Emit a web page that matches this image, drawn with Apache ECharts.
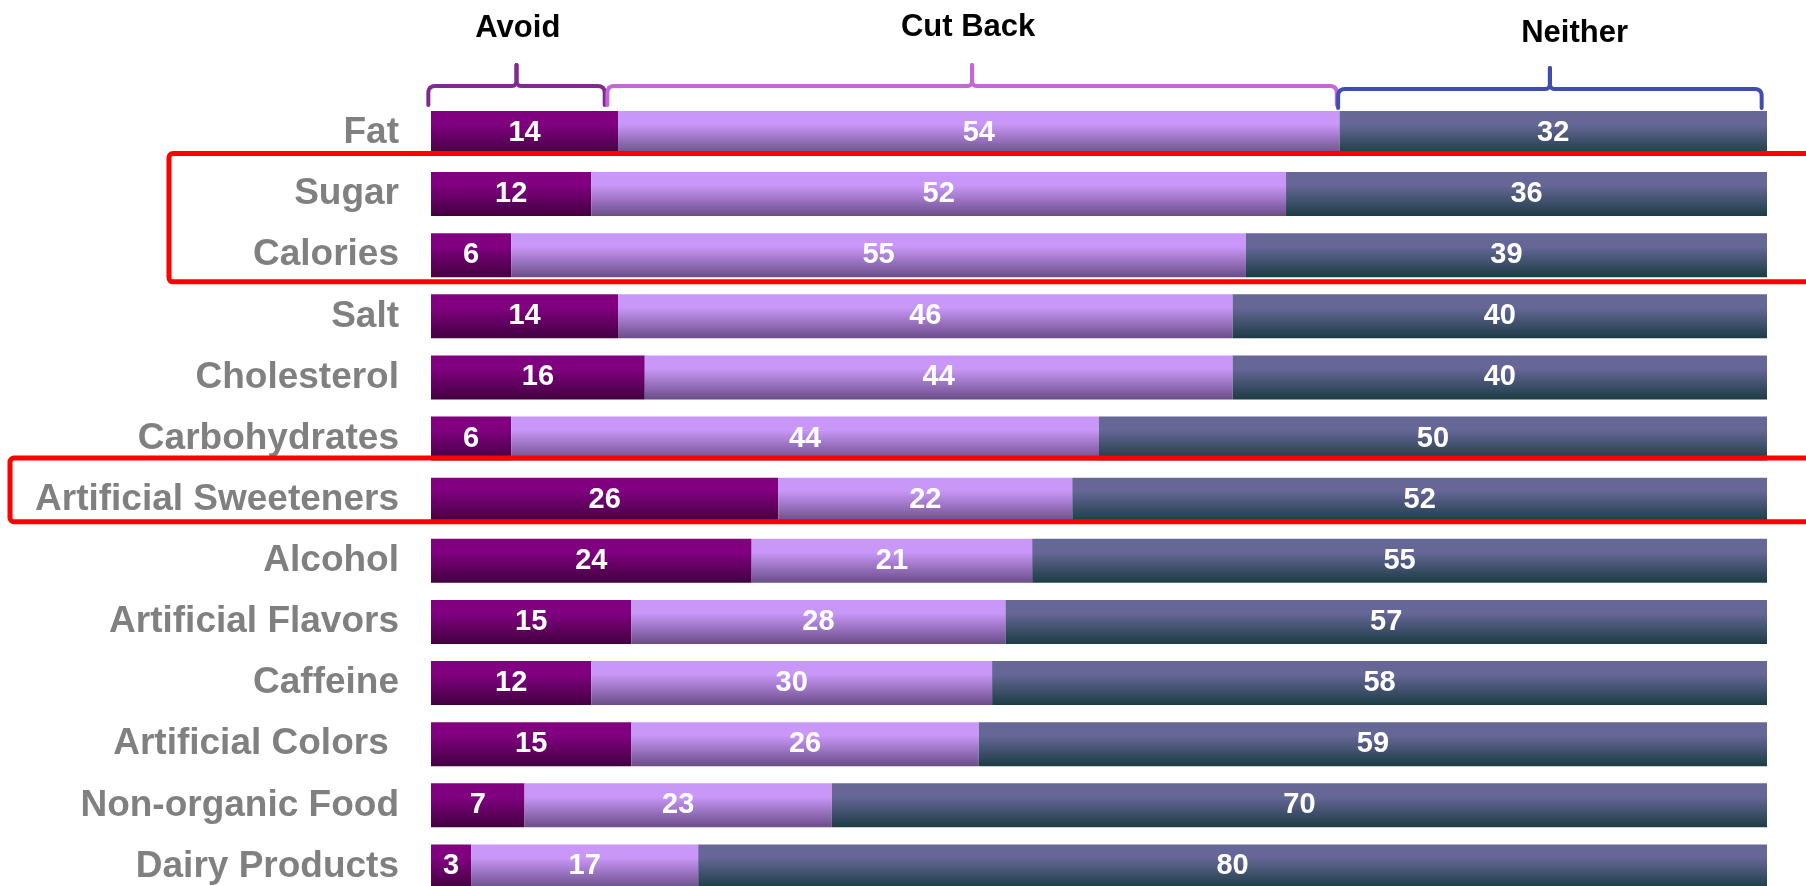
<!DOCTYPE html>
<html>
<head>
<meta charset="utf-8">
<script src="https://cdn.jsdelivr.net/npm/echarts@6/dist/echarts.min.js"></script>
<style>
html,body{margin:0;padding:0;background:#fff;overflow:hidden;}
#chart{width:1806px;height:897px;}
</style>
</head>
<body>
<div id="chart"></div>
<script>
const categories = ["Fat","Sugar","Calories","Salt","Cholesterol","Carbohydrates","Artificial Sweeteners","Alcohol","Artificial Flavors","Caffeine","Artificial Colors ","Non-organic Food","Dairy Products"];
const avoid   = [14,12,6,14,16,6,26,24,15,12,15,7,3];
const cutBack = [54,52,55,46,44,44,22,21,28,30,26,23,17];
const neither = [32,36,39,40,40,50,52,55,57,58,59,70,80];
const seriesNames = ["Avoid","Cut Back","Neither"];
// bracket spans over the first row, in value units
const bracketSpans = [[-0.2,13.0],[13.2,67.8],[67.9,99.6]];
const headerCenters = [6.5,40.2,85.6];

const FONT = '"Liberation Sans", Arial, sans-serif';

function grad(top, bottom){
  return new echarts.graphic.LinearGradient(0,0,0,1,[
    {offset:0,color:top},{offset:0.3,color:top},{offset:1,color:bottom}
  ]);
}
const colors = [grad('#800080','#420040'), grad('#c997f8','#6a4d88'), grad('#666797','#1c3c44')];
const bracketColors = ['#80298f','#c566d6','#3f4db0'];

const chart = echarts.init(document.getElementById('chart'), null, {renderer:'canvas'});

const labelStyle = {show:true, position:'inside', color:'#fff', fontSize:29, fontWeight:'bold', fontFamily:FONT};
const dataSets = [avoid, cutBack, neither];

const option = {
  animation:false,
  backgroundColor:'#fff',
  grid:{left:431, right:39, top:102.4, bottom:0, containLabel:false},
  xAxis:{type:'value', min:0, max:100, show:false},
  yAxis:{
    type:'category', data:categories, inverse:true,
    axisLine:{show:false}, axisTick:{show:false}, splitLine:{show:false},
    axisLabel:{fontSize:37, fontWeight:'bold', color:'#808080', fontFamily:FONT, margin:32}
  },
  series: dataSets.map((d,i)=>({
    name:seriesNames[i], type:'bar', stack:'total', data:d, barWidth:44,
    itemStyle:{color:colors[i]}, label:labelStyle
  }))
};
chart.setOption(option);

function px(v, cat){ return chart.convertToPixel({gridIndex:0},[v,cat]); }

function quad(p0, c, p1, n, out){
  for(let k=1;k<=n;k++){
    const t=k/n, a=(1-t)*(1-t), b=2*(1-t)*t, d=t*t;
    out.push([a*p0[0]+b*c[0]+d*p1[0], a*p0[1]+b*c[1]+d*p1[1]]);
  }
}

const graphics = [];
// brackets
bracketSpans.forEach((s,i)=>{
  const x1 = px(s[0],0)[0], x2 = px(s[1],0)[0];
  const mid = (x1+x2)/2;
  const dy = i===2 ? 3 : 0;
  const yb = 105+dy, yh = 86+dy, yp = 65+dy;
  const r = 7;
  const left = [[x1,yb],[x1,yh+r]];
  quad([x1,yh+r],[x1,yh],[x1+r,yh],6,left);
  left.push([mid-5,yh]);
  quad([mid-5,yh],[mid,yh],[mid,yh-5],5,left);
  left.push([mid,yp]);
  const right = [[mid,yp],[mid,yh-5]];
  quad([mid,yh-5],[mid,yh],[mid+5,yh],5,right);
  right.push([x2-r,yh]);
  quad([x2-r,yh],[x2,yh],[x2,yh+r],6,right);
  right.push([x2,yb]);
  [left,right].forEach(pts=>{
    graphics.push({type:'polyline', shape:{points:pts}, style:{stroke:bracketColors[i], lineWidth:4, fill:null, lineJoin:'round', lineCap:'round'}, z:10});
  });
});
// headers
const headerY = [28.5,27.5,33.5];
headerCenters.forEach((c,i)=>{
  graphics.push({type:'text', x:px(c,0)[0], y:headerY[i],
    style:{text:seriesNames[i], font:`bold 31px ${FONT}`, fill:'#000', align:'center', verticalAlign:'middle'}, z:10});
});
// red highlight boxes
const sugarY = px(0,1)[1], calY = px(0,2)[1], swY = px(0,6)[1];
graphics.push({type:'rect', shape:{x:169, y:sugarY-40.5, width:1700, height:(calY+26.6)-(sugarY-40.5), r:4},
  style:{stroke:'#ff0000', lineWidth:5, fill:null}, z:20});
graphics.push({type:'rect', shape:{x:10, y:swY-41.7, width:1850, height:63.7, r:4},
  style:{stroke:'#ff0000', lineWidth:5, fill:null}, z:20});

chart.setOption({graphic:graphics});
</script>
</body>
</html>
